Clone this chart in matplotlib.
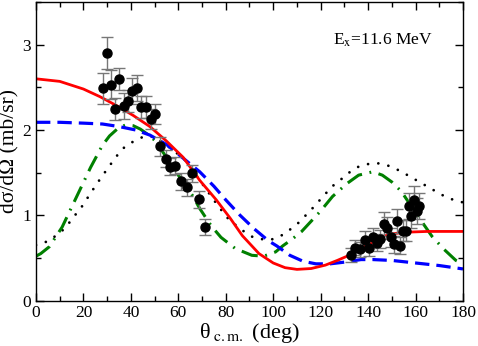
import matplotlib
matplotlib.use("Agg")
import matplotlib.pyplot as plt
from matplotlib.ticker import MultipleLocator

plt.rcParams['font.family'] = ['Liberation Serif', 'DejaVu Serif']
plt.rcParams['mathtext.fontset'] = 'stix'

# Experimental data
exp_theta = [28.1, 29.8, 31.6, 33.4, 35.1, 37.1, 38.7, 40.6, 42.4, 44.1, 46.2, 48.4, 50.2,
             52.3, 54.7, 56.5, 58.7, 61.1, 63.5, 65.9, 68.7, 71.4,
             132.7, 134.6, 136.6, 138.6, 140.3, 142.0, 143.6, 145.2, 146.6, 148.0, 149.5,
             150.9, 152.1, 153.5, 154.7, 156.0, 157.3, 158.2, 159.4, 160.5, 161.6]
exp_xs = [2.49, 2.90, 2.53, 2.25, 2.60, 2.28, 2.34, 2.46, 2.49, 2.27, 2.27, 2.13, 2.19,
          1.81, 1.66, 1.57, 1.58, 1.40, 1.33, 1.49, 1.19, 0.86,
          0.53, 0.62, 0.60, 0.71, 0.61, 0.74, 0.68, 0.72, 0.90, 0.85, 0.74,
          0.66, 0.93, 0.64, 0.82, 0.82, 1.11, 0.99, 1.18, 1.05, 1.11]
exp_err = [0.18, 0.19, 0.17, 0.13, 0.13, 0.15, 0.13, 0.15, 0.15, 0.13, 0.13, 0.12, 0.12,
           0.11, 0.10, 0.10, 0.10, 0.10, 0.10, 0.10, 0.10, 0.09,
           0.08, 0.09, 0.09, 0.11, 0.09, 0.11, 0.10, 0.11, 0.14, 0.13, 0.11,
           0.10, 0.14, 0.10, 0.12, 0.12, 0.15, 0.14, 0.16, 0.15, 0.15]

# Red solid curve
red_theta = [0, 10, 20, 27, 35, 41, 48, 55, 62, 69, 76, 82, 87, 94, 100, 105, 110, 116,
             122, 127, 132, 137, 141, 146, 150, 155, 165, 180]
red_xs = [2.60, 2.57, 2.48, 2.39, 2.27, 2.17, 2.04, 1.87, 1.68, 1.41, 1.18, 0.96, 0.76,
          0.55, 0.44, 0.385, 0.365, 0.375, 0.415, 0.47, 0.53, 0.61, 0.67, 0.75, 0.78,
          0.80, 0.81, 0.81]

# Blue dashed curve
blue_theta = [0, 10, 20, 28, 35, 42, 48, 55, 62, 69, 75, 80, 86, 92, 98, 101.5, 107,
              112.6, 118, 124, 130, 137, 142, 150, 160, 170, 180]
blue_xs = [2.09, 2.09, 2.08, 2.07, 2.04, 2.00, 1.94, 1.83, 1.67, 1.51, 1.34, 1.18, 1.00,
           0.84, 0.70, 0.64, 0.53, 0.46, 0.43, 0.43, 0.45, 0.48, 0.48, 0.47, 0.44, 0.41, 0.37]

# Green dash-dot curve
green_theta = [0, 2, 5.6, 11, 17, 23, 28, 31, 35, 38, 41, 44, 47, 50, 54, 60, 66, 69, 74,
               78, 84, 91, 96, 101, 104, 108, 112, 116, 120, 125, 131, 136, 142, 146, 150,
               154, 160, 167, 172, 177, 180]
green_xs = [0.52, 0.55, 0.63, 0.86, 1.21, 1.56, 1.82, 1.93, 2.03, 2.06, 2.05, 2.01, 1.95,
            1.88, 1.72, 1.47, 1.23, 1.08, 0.87, 0.74, 0.61, 0.53, 0.52, 0.57, 0.64, 0.72,
            0.81, 0.93, 1.05, 1.22, 1.37, 1.47, 1.51, 1.47, 1.39, 1.28, 1.03, 0.75, 0.60,
            0.47, 0.43]

# Black dotted curve
black_theta = [0, 5.6, 9, 12.4, 15, 17.6, 20.4, 22.5, 25, 27.4, 30, 32.3, 35, 37.7, 42,
               46, 50, 54, 58, 63.5, 68, 73.4, 77, 81, 86, 91.6, 97, 100, 104, 107, 110.6,
               113.4, 116.5, 119.4, 122.3, 125.4, 129, 132, 136, 140, 144, 148.6, 152, 156,
               161, 166, 171, 175, 180]
black_xs = [0.65, 0.70, 0.775, 0.85, 0.95, 1.04, 1.14, 1.24, 1.34, 1.44, 1.54, 1.63, 1.73,
            1.81, 1.88, 1.93, 1.92, 1.84, 1.76, 1.63, 1.45, 1.24, 1.10, 0.96, 0.84, 0.74,
            0.71, 0.72, 0.77, 0.83, 0.91, 0.99, 1.08, 1.17, 1.26, 1.35, 1.43, 1.50, 1.57,
            1.60, 1.61, 1.58, 1.54, 1.48, 1.40, 1.32, 1.24, 1.19, 1.15]

fig = plt.figure(figsize=(4.78, 3.46), dpi=100)
ax = fig.add_axes([0.0753, 0.1315, 0.8933, 0.8625])

ax.plot(black_theta, black_xs, color='black', lw=2.0, linestyle=(0, (0.01, 3.7)),
        dash_capstyle='round')
ax.plot(green_theta, green_xs, color='#008000', lw=2.2,
        linestyle=(0, (5.5, 2.5, 0.6, 2.5)))
ax.plot(blue_theta, blue_xs, color='#0000ff', lw=2.3, linestyle=(0, (4.5, 2.2)))
ax.plot(red_theta, red_xs, color='#ff0000', lw=2.0)

ax.errorbar(exp_theta, exp_xs, yerr=exp_err, fmt='o', color='black', ms=6.5,
            ecolor='#777777', elinewidth=1.0, capsize=4, capthick=1.0, zorder=5)

ax.set_xlim(0, 180)
ax.set_ylim(0, 3.5)
ax.xaxis.set_major_locator(MultipleLocator(20))
ax.xaxis.set_minor_locator(MultipleLocator(10))
ax.yaxis.set_major_locator(MultipleLocator(1))
ax.yaxis.set_minor_locator(MultipleLocator(0.5))
ax.tick_params(which='both', direction='in', top=True, right=True, labelsize=12.5)
ax.tick_params(which='major', length=6, width=1.0)
ax.tick_params(which='minor', length=3.5, width=1.0)
for s in ax.spines.values():
    s.set_linewidth(1.0)

ax.set_xlabel('θ$_{\\rm\\ c.m.}$ (deg)', fontsize=16, labelpad=0)
ax.set_ylabel('dσ/dΩ (mb/sr)', fontsize=15.5, labelpad=2)
ax.text(125, 3.0, r'E$_{\rm x}$=11.6 MeV', fontsize=12.5)

fig.savefig('out.png', dpi=100)
